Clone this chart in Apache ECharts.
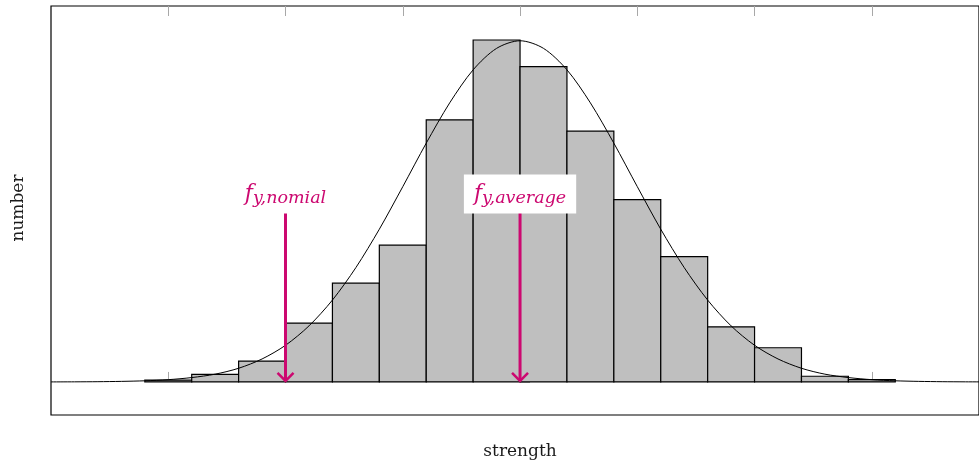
<!DOCTYPE html>
<html>
<head>
<meta charset="utf-8">
<script src="https://cdn.jsdelivr.net/npm/echarts@6/dist/echarts.min.js"></script>
<style>html,body{margin:0;padding:0;background:#fff}#c{width:979px;height:468px}</style>
</head>
<body>
<div id="c"></div>
<script>
// ---- data ----
const binLefts  = [-16,-14,-12,-10,-8,-6,-4,-2,0,2,4,6,8,10,12,14];
const binWidth  = 2;
const binCounts = [0.1,0.4,1.1,3.1,5.2,7.2,13.8,18.0,16.6,13.2,9.6,6.6,2.9,1.8,0.3,0.12];

const curveX = [-20,-19,-18,-17,-16,-15,-14,-13,-12,-11,-10,-9,-8,-7,-6,-5,-4,-3,-2,-1,0,
                1,2,3,4,5,6,7,8,9,10,11,12,13,14,15,16,17,18,19,20];
const curveY = [0.002,0.006,0.013,0.03,0.06,0.12,0.23,0.41,0.72,1.21,1.93,2.95,4.31,6.02,8.04,10.28,12.57,14.69,16.43,17.56,17.96,
                17.56,16.43,14.69,12.57,10.28,8.04,6.02,4.31,2.95,1.93,1.21,0.72,0.41,0.23,0.12,0.06,0.03,0.013,0.006,0.002];

const arrowX    = [-10, 0];
const arrowTop  = [9.0, 9.0];
const labelY    = [9.9, 9.9];
const labelSubs = ['y,nomial', 'y,average'];

const xTicks = [-15,-10,-5,0,5,10,15];
const yTicks = [0,5,10,15];

const xMin = -20, xMax = 19.57, yMin = -1.74, yMax = 19.79;

// ---- chart ----
const magenta = 'rgb(204,8,112)';
const chart = echarts.init(document.getElementById('c'), null, {renderer:'canvas'});

const tickStyle = {show:true, inside:true, length:10, lineStyle:{color:'#a8a8a8', width:1}};

chart.setOption({
  animation:false,
  grid:{left:51, top:6, right:0, bottom:53, show:true, borderColor:'#000', borderWidth:1.2, backgroundColor:'transparent'},
  xAxis:[
    {type:'value', min:xMin, max:xMax, position:'bottom',
     axisLine:{show:false}, splitLine:{show:false}, axisLabel:{show:false},
     axisTick:Object.assign({customValues:xTicks}, tickStyle)},
    {type:'value', min:xMin, max:xMax, position:'top',
     axisLine:{show:false}, splitLine:{show:false}, axisLabel:{show:false},
     axisTick:Object.assign({customValues:xTicks}, tickStyle)}
  ],
  yAxis:{type:'value', min:yMin, max:yMax,
     axisLine:{show:false}, splitLine:{show:false}, axisLabel:{show:false},
     axisTick:Object.assign({customValues:yTicks}, tickStyle)},
  graphic:[
    {type:'text', x:19, y:208, rotation:Math.PI/2,
     style:{text:'number', fontFamily:'DejaVu Serif', fontSize:17, fill:'#1a1a1a', align:'center', verticalAlign:'middle'}},
    {type:'text', x:520, y:452,
     style:{text:'strength', fontFamily:'DejaVu Serif', fontSize:17, fill:'#1a1a1a', align:'center', verticalAlign:'middle'}}
  ],
  series:[
    {
      type:'custom', z:2,
      data: binLefts.map((l,i)=>[l, l+binWidth, binCounts[i]]),
      encode:{x:[0,1], y:2},
      renderItem:function(params, api){
        const p0 = api.coord([api.value(0), 0]);
        const p1 = api.coord([api.value(1), api.value(2)]);
        return {type:'rect',
          shape:{x:p0[0], y:p1[1], width:p1[0]-p0[0], height:p0[1]-p1[1]},
          style:{fill:'#bfbfbf', stroke:'#000', lineWidth:1.2}};
      }
    },
    {
      type:'line', z:3, smooth:0.3, showSymbol:false, symbol:'none',
      data: curveX.map((x,i)=>[x, curveY[i]]),
      lineStyle:{color:'#000', width:1}
    },
    {
      type:'custom', z:5,
      data: arrowX.map((x,i)=>[x, arrowTop[i], labelY[i]]),
      encode:{x:0, y:[1,2]},
      renderItem:function(params, api){
        const x = api.value(0);
        const top = api.coord([x, api.value(1)]);
        const bot = api.coord([x, 0]);
        const lab = api.coord([x, api.value(2)]);
        return {type:'group', children:[
          {type:'line', shape:{x1:top[0], y1:top[1], x2:bot[0], y2:bot[1]-1},
           style:{stroke:magenta, lineWidth:3}},
          {type:'polyline', shape:{points:[[bot[0]-8, bot[1]-9],[bot[0], bot[1]-1],[bot[0]+8, bot[1]-9]]},
           style:{stroke:magenta, lineWidth:2.5, fill:null}},
          {type:'text', x:lab[0], y:lab[1],
           style:{text:'{f|f}{s|'+labelSubs[params.dataIndex]+'}', align:'center', verticalAlign:'middle',
             backgroundColor:'#fff', padding:[6,10,6,10],
             rich:{
               f:{fontFamily:'DejaVu Serif', fontStyle:'italic', fontSize:22, lineHeight:27, fill:magenta, verticalAlign:'middle'},
               s:{fontFamily:'DejaVu Serif', fontStyle:'italic', fontSize:17.5, lineHeight:17, fill:magenta, verticalAlign:'bottom'}
             }}}
        ]};
      }
    }
  ]
});
</script>
</body>
</html>
